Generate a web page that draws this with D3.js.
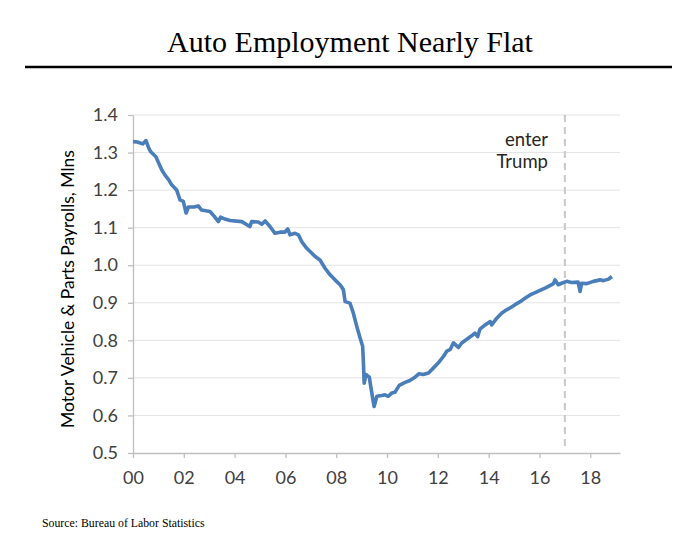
<!DOCTYPE html>
<html>
<head>
<meta charset="utf-8">
<script src="https://cdn.jsdelivr.net/npm/d3@7"></script>
<style>
html, body { margin: 0; padding: 0; background: #ffffff; }
svg { display: block; }
</style>
</head>
<body>
<svg id="chart" width="700" height="542"></svg>
<script>
// ---- Data ----
const titleText = "Auto Employment Nearly Flat";
const yAxisTitle = "Motor Vehicle & Parts Payrolls, Mlns";
const sourceText = "Source: Bureau of Labor Statistics";
const annotationLines = ["enter", "Trump"];
const trumpDate = 2017.0;

const xTickValues = [2000, 2002, 2004, 2006, 2008, 2010, 2012, 2014, 2016, 2018];
const xTickLabels = ["00", "02", "04", "06", "08", "10", "12", "14", "16", "18"];
const yTickValues = [0.5, 0.6, 0.7, 0.8, 0.9, 1.0, 1.1, 1.2, 1.3, 1.4];
const yTickLabels = ["0.5", "0.6", "0.7", "0.8", "0.9", "1.0", "1.1", "1.2", "1.3", "1.4"];

// dates as decimal years
const dates = [
  2000.00, 2000.17, 2000.38, 2000.51, 2000.62, 2000.70, 2000.90, 2001.13, 2001.26, 2001.40,
  2001.52, 2001.72, 2001.85, 2001.98, 2002.09, 2002.18, 2002.40, 2002.57, 2002.70, 2003.03,
  2003.20, 2003.36, 2003.45, 2003.62, 2003.82, 2004.28, 2004.60, 2004.67, 2004.93, 2005.07,
  2005.20, 2005.39, 2005.59, 2005.79, 2005.98, 2006.09, 2006.18, 2006.38, 2006.51, 2006.64,
  2006.84, 2007.04, 2007.17, 2007.36, 2007.56, 2007.75, 2007.95, 2008.15, 2008.28, 2008.35,
  2008.54, 2008.67, 2008.81, 2008.94, 2009.04, 2009.07, 2009.10, 2009.17, 2009.30, 2009.40,
  2009.49, 2009.60, 2009.79, 2009.92, 2010.05, 2010.19, 2010.31, 2010.48, 2010.71, 2010.90,
  2011.10, 2011.26, 2011.43, 2011.63, 2011.82, 2012.02, 2012.22, 2012.35, 2012.48, 2012.61,
  2012.81, 2012.94, 2013.14, 2013.33, 2013.46, 2013.57, 2013.66, 2013.86, 2014.06, 2014.12,
  2014.32, 2014.52, 2014.65, 2014.84, 2015.04, 2015.24, 2015.43, 2015.63, 2015.83, 2016.02,
  2016.22, 2016.39, 2016.55, 2016.61, 2016.74, 2016.87, 2017.07, 2017.26, 2017.52, 2017.60,
  2017.66, 2017.86, 2018.12, 2018.39, 2018.52, 2018.72, 2018.85
];
const payrolls = [
  1.329, 1.328, 1.323, 1.332, 1.312, 1.302, 1.289, 1.254, 1.240, 1.228,
  1.214, 1.200, 1.174, 1.170, 1.139, 1.155, 1.155, 1.158, 1.147, 1.143,
  1.130, 1.116, 1.128, 1.123, 1.119, 1.116, 1.103, 1.116, 1.115, 1.109,
  1.118, 1.103, 1.085, 1.088, 1.088, 1.097, 1.081, 1.085, 1.081, 1.063,
  1.045, 1.032, 1.023, 1.014, 0.992, 0.975, 0.961, 0.948, 0.935, 0.903,
  0.899, 0.873, 0.837, 0.806, 0.784, 0.740, 0.686, 0.709, 0.702, 0.660,
  0.624, 0.651, 0.653, 0.655, 0.651, 0.660, 0.662, 0.680, 0.688, 0.693,
  0.702, 0.711, 0.709, 0.713, 0.726, 0.740, 0.757, 0.771, 0.775, 0.793,
  0.781, 0.793, 0.803, 0.812, 0.819, 0.810, 0.830, 0.841, 0.850, 0.841,
  0.859, 0.873, 0.879, 0.886, 0.895, 0.903, 0.912, 0.921, 0.927, 0.933,
  0.939, 0.945, 0.951, 0.961, 0.948, 0.952, 0.957, 0.954, 0.955, 0.930,
  0.952, 0.951, 0.957, 0.961, 0.959, 0.963, 0.970
];

// ---- Layout ----
const svg = d3.select("#chart");
const plot = { left: 133, right: 620, top: 115, bottom: 453 };
const x = d3.scaleLinear().domain([2000, 2019.17]).range([plot.left, plot.right]);
const y = d3.scaleLinear().domain([0.5, 1.4]).range([plot.bottom, plot.top]);
const textFont = "Lato, 'Open Sans', sans-serif";
const textColor = "#404040";

// Title
svg.append("text")
  .attr("x", 350).attr("y", 52)
  .attr("text-anchor", "middle")
  .style("font-family", "'Liberation Serif', 'Times New Roman', serif")
  .style("font-size", "30px")
  .style("fill", "#000")
  .text(titleText);

svg.append("line")
  .attr("x1", 25).attr("x2", 672)
  .attr("y1", 67).attr("y2", 67)
  .attr("stroke", "#000").attr("stroke-width", 2.5);

// Gridlines
svg.append("g")
  .selectAll("line")
  .data(yTickValues.filter(v => v > 0.5))
  .join("line")
  .attr("x1", plot.left).attr("x2", plot.right)
  .attr("y1", d => y(d)).attr("y2", d => y(d))
  .attr("stroke", "#e4e4e4").attr("stroke-width", 1);

// Y axis
const yAxis = d3.axisLeft(y)
  .tickValues(yTickValues)
  .tickFormat((d, i) => yTickLabels[i])
  .tickSizeInner(5).tickSizeOuter(0).tickPadding(10);
const gy = svg.append("g").attr("transform", `translate(${plot.left},0)`).call(yAxis);
gy.select(".domain").attr("stroke", "#bfbfbf").attr("stroke-width", 1.3);
gy.selectAll(".tick line").attr("stroke", "#bfbfbf").attr("stroke-width", 1.3);
gy.selectAll(".tick text")
  .style("font-family", textFont).style("font-size", "18px").style("fill", textColor);

// X axis
const xAxis = d3.axisBottom(x)
  .tickValues(xTickValues)
  .tickFormat((d, i) => xTickLabels[i])
  .tickSizeInner(5).tickSizeOuter(0).tickPadding(13);
const gx = svg.append("g").attr("transform", `translate(0,${plot.bottom})`).call(xAxis);
gx.select(".domain").attr("stroke", "#bfbfbf").attr("stroke-width", 1.3);
gx.selectAll(".tick line").attr("stroke", "#bfbfbf").attr("stroke-width", 1.3);
gx.selectAll(".tick text")
  .style("font-family", textFont).style("font-size", "18px").style("fill", textColor);

// Y axis title
svg.append("text")
  .attr("transform", `translate(74,289) rotate(-90)`)
  .attr("text-anchor", "middle")
  .style("font-family", textFont)
  .style("font-size", "17.5px")
  .style("fill", "#000")
  .text(yAxisTitle);

// Trump dashed line
svg.append("line")
  .attr("x1", x(trumpDate)).attr("x2", x(trumpDate))
  .attr("y1", plot.top).attr("y2", 447)
  .attr("stroke", "#c8c8c8").attr("stroke-width", 2)
  .attr("stroke-dasharray", "7,5");

// Annotation
svg.append("g")
  .selectAll("text")
  .data(annotationLines)
  .join("text")
  .attr("x", 548)
  .attr("y", (d, i) => 146 + i * 22)
  .attr("text-anchor", "end")
  .style("font-family", textFont)
  .style("font-size", "18.5px")
  .style("fill", "#262626")
  .text(d => d);

// Data line
const line = d3.line()
  .x((d, i) => x(dates[i]))
  .y(d => y(d));
svg.append("path")
  .datum(payrolls)
  .attr("d", line)
  .attr("fill", "none")
  .attr("stroke", "#4a7ebb")
  .attr("stroke-width", 3.6)
  .attr("stroke-linejoin", "round");

// Source
svg.append("text")
  .attr("x", 42).attr("y", 527)
  .style("font-family", "'Liberation Serif', 'Times New Roman', serif")
  .style("font-size", "11.8px")
  .style("fill", "#000")
  .text(sourceText);
</script>
</body>
</html>
